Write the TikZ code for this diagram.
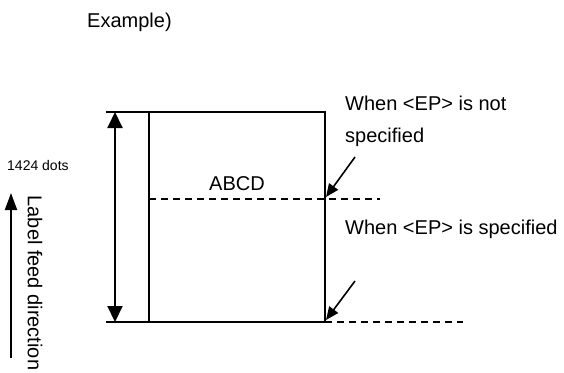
\documentclass[tikz,border=0pt]{standalone}
\usepackage{fontspec}
\setmainfont{Liberation Sans}
\usetikzlibrary{arrows.meta}
\begin{document}
\begin{tikzpicture}[x=1pt,y=-1pt,
  txt/.style={inner sep=0pt,font=\fontsize{20}{24}\selectfont},
  smalltxt/.style={inner sep=0pt,font=\fontsize{14}{17}\selectfont},
  frameline/.style={line width=1.5pt},
  dashline/.style={line width=1.3pt,dash pattern=on 7pt off 5pt},
  ptr/.style={line width=1.6pt,-{Triangle[length=13pt,width=11pt]}},
  dimarrow/.style={line width=2pt,{Triangle[length=16pt,width=15pt]}-{Triangle[length=16pt,width=15pt]}},
  feedarrow/.style={line width=2pt,-{Triangle[length=17pt,width=12pt]}}]
\useasboundingbox (0,0) rectangle (564,372);
% corners
\coordinate (tl) at (106,112);
\coordinate (bl) at (106,322);
\coordinate (rtl) at (149,112);
\coordinate (rbl) at (149,322);
\coordinate (tr) at (325,112);
\coordinate (br) at (325,322);
\coordinate (mid) at (149,199);
\coordinate (midr) at (325,199);
\coordinate (midend) at (380,199);
\coordinate (botend) at (463,322);
\coordinate (dimt) at (115,112);
\coordinate (dimb) at (115,322);
\coordinate (p1s) at (355,157);
\coordinate (p1e) at (326,197);
\coordinate (p2s) at (355,281);
\coordinate (p2e) at (326,320);
\coordinate (fs) at (11,358);
\coordinate (fe) at (11,193);
% frame
\draw[frameline] (tl) -- (tr) -- (br) -- (bl);
\draw[frameline] (rtl) -- (rbl);
% dashed lines
\draw[dashline] (mid) -- (midend);
\draw[dashline] (br) -- (botend);
% arrows
\draw[dimarrow] (dimt) -- (dimb);
\draw[ptr] (p1s) -- (p1e);
\draw[ptr] (p2s) -- (p2e);
\draw[feedarrow] (fs) -- (fe);
% texts
\node[txt,anchor=base west] (ex) at (87,27) {Example)};
\node[txt,anchor=base] (abcd) at (237,190) {ABCD};
\node[txt,anchor=base west] (not1) at (345,110) {When <EP> is not};
\node[txt,anchor=base west] (not2) at (345,142) {specified};
\node[txt,anchor=base west] (spec) at (345,234) {When <EP> is specified};
\node[smalltxt,anchor=base west] (dots) at (7,170) {1424 dots};
\node[txt,rotate=-90] (feed) at (35,283) {Label feed direction};
\end{tikzpicture}
\end{document}
